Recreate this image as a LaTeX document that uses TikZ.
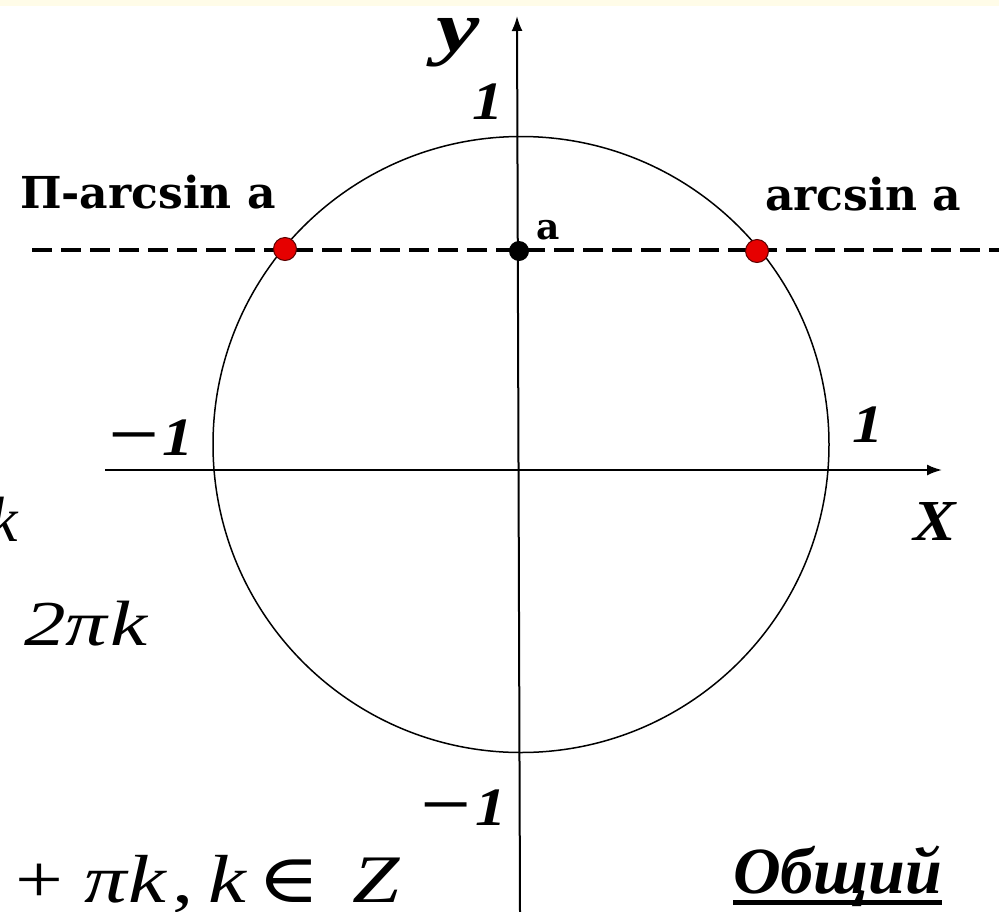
\documentclass[tikz,border=0pt]{standalone}
\usepackage{fontspec}
\setmainfont{Liberation Serif}
\newfontfamily\lblfont{DejaVu Serif}
\usetikzlibrary{arrows.meta}
\definecolor{dotred}{RGB}{230,0,0}
\definecolor{dotedge}{RGB}{90,0,0}
\definecolor{cream}{RGB}{255,252,232}
\tikzset{
  axisline/.style={line width=2pt, -{Latex[length=15pt,width=11pt]}},
  unitcircle/.style={line width=1.5pt},
  dashline/.style={line width=4pt, dash pattern=on 20pt off 9pt},
  reddot/.style={circle, fill=dotred, draw=dotedge, line width=1pt, minimum size=23pt, inner sep=0pt},
  blackdot/.style={circle, fill=black, minimum size=20pt, inner sep=0pt},
  ticklbl/.style={font={\bfseries\itshape\fontsize{54}{54}\selectfont}, inner sep=0pt, anchor=base west, xscale=1.15},
  minuslbl/.style={font={\bfseries\fontsize{62}{62}\selectfont}, inner sep=0pt, anchor=base west, xscale=1.45},
  axislbl/.style={font={\bfseries\itshape\fontsize{72}{72}\selectfont}, inner sep=0pt, anchor=base west, text height=34pt, text depth=16pt},
  anglbl/.style={font={\lblfont\bfseries\fontsize{44}{44}\selectfont}, inner sep=0pt, anchor=base west},
  formula/.style={font={\itshape\fontsize{64}{64}\selectfont}, inner sep=0pt, anchor=base west},
}
\begin{document}
\begin{tikzpicture}[x=1pt,y=-1pt]
\useasboundingbox (0,0) rectangle (999,911);
\fill[white] (0,0) rectangle (999,911);
\fill[cream] (0,0) rectangle (999,6);

% axes
\coordinate (xl) at (105,470);
\coordinate (xr) at (942,470);
\coordinate (yb) at (520,912);
\coordinate (yt) at (517,16);
\draw[axisline] (xl) -- (xr);
\draw[axisline] (yb) -- (yt);

% unit circle
\coordinate (o) at (521,444.5);
\draw[unitcircle] (o) circle[radius=308];

% level line y = a
\coordinate (dl) at (32,250);
\coordinate (dr) at (1002,250);
\draw[dashline] (dl) -- (dr);

\node[reddot] (p1) at (285,249) {};
\node[reddot] (p2) at (757,251) {};
\node[blackdot] (a0) at (519,251) {};

% labels
\node[anglbl] (l1) at (20,208) {П-arcsin a};
\node[anglbl] (l2) at (765,210) {arcsin a};
\node[font={\lblfont\bfseries\fontsize{36}{36}\selectfont}, inner sep=0pt, anchor=base west] (la) at (536,239) {a};

\node[axislbl, xscale=1.35] (ly) at (436,51) {y};
\node[font={\bfseries\itshape\fontsize{58}{58}\selectfont}, inner sep=0pt, anchor=base west, xscale=1.1] (lx) at (913,540) {X};

\node[ticklbl] (t1) at (472,119) {1};
\node[ticklbl] (t2) at (852,442) {1};
\node[minuslbl] (m3) at (108,455) {−};
\node[ticklbl] (t3) at (162,455) {1};
\node[minuslbl] (m4) at (420,825) {−};
\node[ticklbl] (t4) at (475,825) {1};

% general solution label
\node[font={\bfseries\itshape\fontsize{66}{66}\selectfont}, inner sep=0pt, anchor=base west] (gen) at (733,893) {Общий};
\draw[line width=5pt] ([yshift=-9pt]gen.base west) -- ([yshift=-9pt]gen.base east);

% cut-off formulas on the left
\begin{scope}
\clip (0,0) rectangle (999,911);
\node[formula, anchor=base east] (f1) at (18,541) {k};
\node[formula, anchor=base east] (f2p) at (4,645) {\upshape +};
\node[formula, xscale=1.3] (f2) at (24,645) {2π\kern2pt k};
\node[formula, font={\itshape\fontsize{68}{68}\selectfont}, xscale=1.25] (f3) at (15,902) {{\upshape +}\kern17pt π\kern1pt k\kern5pt{\upshape ,}\kern12pt k\kern9pt{\lblfont\upshape ∈}\kern26pt Z};
\end{scope}
\end{tikzpicture}
\end{document}
